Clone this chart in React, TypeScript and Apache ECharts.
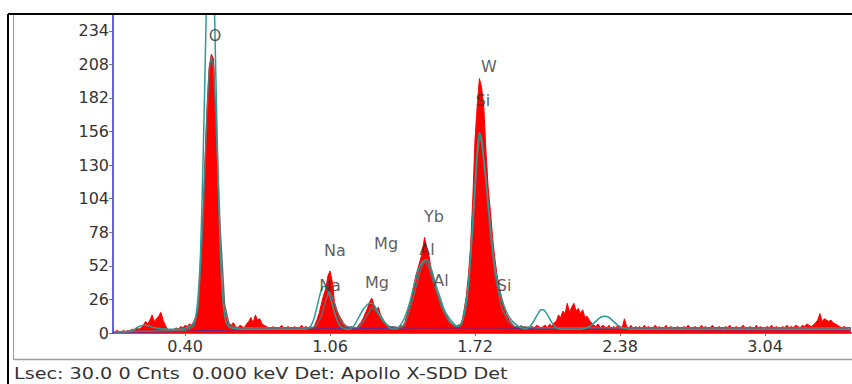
import React, { useEffect, useRef } from "react";
import * as echarts from "echarts";

// Spectrum channels (keV calibration) and counts
const channelStart = 0.08;
const channelWidth = 0.01;
const spectrumCounts = [
  // 0.08 - 0.19
  1, 2, 1, 1, 2, 1, 2, 2, 3, 2, 4, 3,
  // 0.20 - 0.34
  4, 6, 9, 7, 10, 14, 9, 11, 13, 16, 10, 6, 3, 2, 2,
  // 0.35 - 0.45
  3, 4, 3, 5, 4, 6, 5, 7, 6, 9, 13,
  // 0.46 - 0.60 (O)
  20, 44, 80, 128, 172, 206, 216, 212, 160, 112, 66, 34, 18, 10, 7,
  // 0.61 - 0.76
  6, 8, 5, 4, 6, 5, 4, 7, 9, 12, 8, 14, 10, 11, 7, 6,
  // 0.77 - 0.98
  5, 4, 3, 5, 4, 3, 4, 6, 3, 4, 5, 3, 4, 5, 3, 4, 6, 4, 5, 4, 5, 4,
  // 0.99 - 1.14 (Na)
  6, 10, 15, 22, 29, 34, 44, 48, 40, 24, 18, 14, 11, 8, 6, 5,
  // 1.15 - 1.19
  4, 5, 3, 4, 6,
  // 1.20 - 1.33 (Mg)
  8, 11, 15, 19, 24, 27, 22, 18, 20, 14, 11, 8, 6, 5,
  // 1.34 - 1.40
  4, 5, 3, 4, 6, 5, 8,
  // 1.41 - 1.63 (Al)
  14, 20, 27, 36, 44, 50, 56, 62, 74, 66, 60, 50, 44, 36, 30, 26, 21, 17, 14, 10, 8, 6, 5,
  // 1.64 - 1.90 (Si)
  5, 6, 9, 16, 28, 45, 68, 105, 150, 176, 197, 190, 175, 140, 112, 94, 74, 58, 45, 36, 28, 22, 15, 12, 9, 7, 5,
  // 1.91 - 2.08
  5, 4, 6, 4, 5, 3, 4, 5, 4, 6, 5, 4, 5, 6, 4, 7, 5, 8,
  // 2.09 - 2.25
  9, 14, 12, 17, 15, 23, 16, 20, 23, 17, 19, 15, 18, 12, 13, 10, 8,
  // 2.26 - 3.25
  6, 5, 7, 4, 6, 5, 4, 6, 3, 5,
  4, 6, 5, 4, 11, 5, 4, 6, 3, 5,
  4, 5, 3, 6, 4, 5, 3, 4, 6, 4,
  5, 3, 4, 6, 3, 5, 4, 3, 5, 4,
  3, 5, 4, 6, 4, 3, 5, 4, 3, 6,
  4, 5, 3, 4, 6, 4, 3, 5, 4, 3,
  5, 4, 6, 3, 4, 5, 3, 4, 6, 4,
  3, 5, 4, 3, 6, 4, 5, 3, 4, 5,
  4, 6, 3, 5, 4, 3, 5, 4, 6, 4,
  5, 4, 6, 5, 4, 6, 5, 7, 6, 5,
  // 3.26 - 3.38
  6, 8, 10, 15, 9, 11, 10, 9, 10, 8, 7, 6, 5,
  // 3.39 - 3.43
  4, 5, 4, 3, 4,
];

// Fitted curve (teal)
const fitCurve = [
  [0.08, 1], [0.12, 1], [0.16, 2], [0.19, 5], [0.22, 6], [0.26, 4], [0.32, 3], [0.38, 3],
  [0.42, 5], [0.44, 8], [0.45, 14], [0.46, 30], [0.47, 60], [0.48, 120], [0.49, 195],
  [0.50, 275], [0.51, 325], [0.52, 325], [0.53, 280], [0.54, 200], [0.55, 125], [0.56, 65],
  [0.57, 30], [0.58, 14], [0.59, 7], [0.61, 4], [0.66, 3], [0.80, 3], [0.95, 3], [0.97, 5],
  [0.98, 8], [0.99, 13], [1.00, 20], [1.01, 27], [1.02, 33], [1.03, 36], [1.04, 36],
  [1.05, 33], [1.06, 28], [1.07, 22], [1.08, 16], [1.09, 11], [1.10, 7], [1.11, 5],
  [1.13, 3], [1.15, 3], [1.17, 6], [1.19, 12], [1.21, 18], [1.23, 22], [1.24, 23],
  [1.25, 23], [1.27, 19], [1.29, 13], [1.31, 8], [1.33, 4], [1.36, 3], [1.38, 6],
  [1.40, 12], [1.42, 22], [1.44, 35], [1.46, 48], [1.48, 55], [1.50, 57], [1.52, 50],
  [1.54, 38], [1.56, 28], [1.58, 18], [1.60, 12], [1.62, 8], [1.64, 5], [1.66, 8],
  [1.67, 14], [1.68, 22], [1.69, 38], [1.70, 60], [1.71, 88], [1.72, 115], [1.73, 140],
  [1.74, 155], [1.75, 150], [1.76, 135], [1.77, 118], [1.78, 100], [1.79, 82], [1.80, 66],
  [1.81, 52], [1.82, 42], [1.83, 34], [1.85, 22], [1.87, 14], [1.89, 9], [1.92, 5],
  [1.95, 3], [1.97, 5], [1.99, 10], [2.01, 16], [2.02, 18], [2.03, 18], [2.05, 14],
  [2.07, 8], [2.09, 4], [2.11, 3], [2.20, 3], [2.24, 5], [2.27, 9], [2.29, 12], [2.31, 13],
  [2.33, 12], [2.35, 9], [2.37, 6], [2.39, 4], [2.42, 3], [2.60, 3], [3.00, 3], [3.43, 3],
];

// Smoothed peak envelope (dark grey)
const peakEnvelope = [
  [0.08, 1], [0.40, 2], [0.44, 5], [0.46, 20], [0.48, 82], [0.50, 172], [0.51, 204],
  [0.52, 214], [0.53, 206], [0.54, 168], [0.56, 80], [0.58, 22], [0.60, 7], [0.63, 4],
  [0.98, 4], [1.00, 6], [1.02, 13], [1.04, 25], [1.05, 30], [1.06, 31], [1.07, 28],
  [1.09, 18], [1.11, 9], [1.13, 5], [1.18, 4], [1.20, 6], [1.23, 14], [1.25, 20],
  [1.27, 17], [1.30, 9], [1.33, 5], [1.38, 4], [1.40, 6], [1.44, 28], [1.47, 48],
  [1.49, 56], [1.51, 51], [1.54, 34], [1.57, 19], [1.60, 9], [1.63, 5], [1.66, 7],
  [1.69, 36], [1.71, 82], [1.73, 136], [1.74, 152], [1.75, 148], [1.77, 116], [1.79, 76],
  [1.81, 46], [1.84, 20], [1.87, 9], [1.90, 5], [2.00, 4], [3.43, 4],
];

// Background (purple)
const background = [
  [0.08, 0.5], [0.30, 1], [0.45, 1.5], [0.60, 2.5], [0.90, 3], [1.20, 3.5], [1.50, 4],
  [1.80, 4], [2.10, 3.5], [2.40, 3], [2.80, 2.5], [3.43, 2.5],
];

// Element labels: [keV, counts, text]
const elementLabels: [number, number, string][] = [
  [0.536, 230, "O"],
  [1.783, 206, "W"],
  [1.756, 180, "Si"],
  [1.533, 90, "Yb"],
  [1.501, 65, "Al"],
  [1.315, 69, "Mg"],
  [1.082, 64, "Na"],
  [1.06, 37, "Na"],
  [1.274, 39, "Mg"],
  [1.565, 41, "Al"],
  [1.852, 37, "Si"],
];

const xTicks = [0.4, 1.06, 1.72, 2.38, 3.04];
const yTicks = [0, 26, 52, 78, 104, 130, 156, 182, 208, 234];
const footerText = "Lsec: 30.0 0 Cnts  0.000 keV Det: Apollo X-SDD Det";

const FONT = "DejaVu Sans";

export default function App() {
  const ref = useRef<HTMLDivElement>(null);
  useEffect(() => {
    if (!ref.current) return;
    const chart = echarts.init(ref.current, undefined, { renderer: "svg" });
    const spectrumData = spectrumCounts.map((c, i) => [
      Math.round((channelStart + i * channelWidth) * 100) / 100,
      c,
    ]);
    chart.setOption({
      animation: false,
      backgroundColor: "#ffffff",
      grid: { left: 113, right: 0, top: 14, bottom: 51 },
      xAxis: {
        type: "value",
        min: 0.072,
        max: 3.436,
        axisLine: { show: true, lineStyle: { color: "#2f2fd0", width: 1.5 } },
        axisTick: { show: true, length: 3, customValues: xTicks, lineStyle: { color: "#777" } },
        axisLabel: {
          customValues: xTicks,
          formatter: (v: number) => v.toFixed(2),
          color: "#333",
          fontFamily: FONT,
          fontSize: 16,
          margin: 5,
        },
        splitLine: { show: false },
      },
      yAxis: {
        type: "value",
        min: 0,
        max: 247,
        axisLine: { show: true, lineStyle: { color: "#2f2fd0", width: 1.5 } },
        axisTick: { show: true, length: 4, customValues: yTicks, lineStyle: { color: "#777" } },
        axisLabel: {
          customValues: yTicks,
          color: "#333",
          fontFamily: FONT,
          fontSize: 16,
          margin: 4,
        },
        splitLine: { show: false },
      },
      series: [
        {
          type: "line",
          data: spectrumData,
          symbol: "none",
          lineStyle: { color: "#ff0000", width: 1 },
          areaStyle: { color: "#ff0000", opacity: 1 },
          z: 2,
        },
        {
          type: "line",
          data: background,
          symbol: "none",
          lineStyle: { color: "#6a2c91", width: 1.5 },
          z: 3,
        },
        {
          type: "line",
          data: peakEnvelope,
          symbol: "none",
          lineStyle: { color: "#6b6b6b", width: 1.5 },
          z: 4,
        },
        {
          type: "line",
          data: fitCurve,
          symbol: "none",
          smooth: 0.3,
          lineStyle: { color: "#2a9d96", width: 1.5 },
          z: 5,
        },
        {
          type: "scatter",
          data: elementLabels.map((d) => ({ value: [d[0], d[1]], name: d[2] })),
          symbolSize: 1,
          itemStyle: { color: "transparent" },
          label: {
            show: true,
            position: "inside",
            formatter: "{b}",
            color: "#333",
            fontFamily: FONT,
            fontSize: 16,
          },
          z: 6,
        },
      ],
      graphic: [
        { type: "line", shape: { x1: 8, y1: 14, x2: 852, y2: 14 }, style: { stroke: "#000", lineWidth: 2 }, z: 100 },
        { type: "line", shape: { x1: 8, y1: 14, x2: 8, y2: 384 }, style: { stroke: "#000", lineWidth: 2 }, z: 100 },
        { type: "line", shape: { x1: 13.5, y1: 15, x2: 13.5, y2: 359.5 }, style: { stroke: "#9a9a9a", lineWidth: 1 }, z: 100 },
        { type: "line", shape: { x1: 13.5, y1: 359.5, x2: 852, y2: 359.5 }, style: { stroke: "#9a9a9a", lineWidth: 1.5 }, z: 100 },
        {
          type: "text",
          x: 14,
          y: 374,
          scaleX: 1.2,
          style: {
            text: footerText,
            fill: "#333",
            font: `16px "${FONT}"`,
            verticalAlign: "middle",
          },
          z: 100,
        },
      ],
    });
    return () => chart.dispose();
  }, []);
  return (
    <div
      ref={ref}
      style={{ position: "absolute", left: 0, top: 0, width: 852, height: 384 }}
    />
  );
}
